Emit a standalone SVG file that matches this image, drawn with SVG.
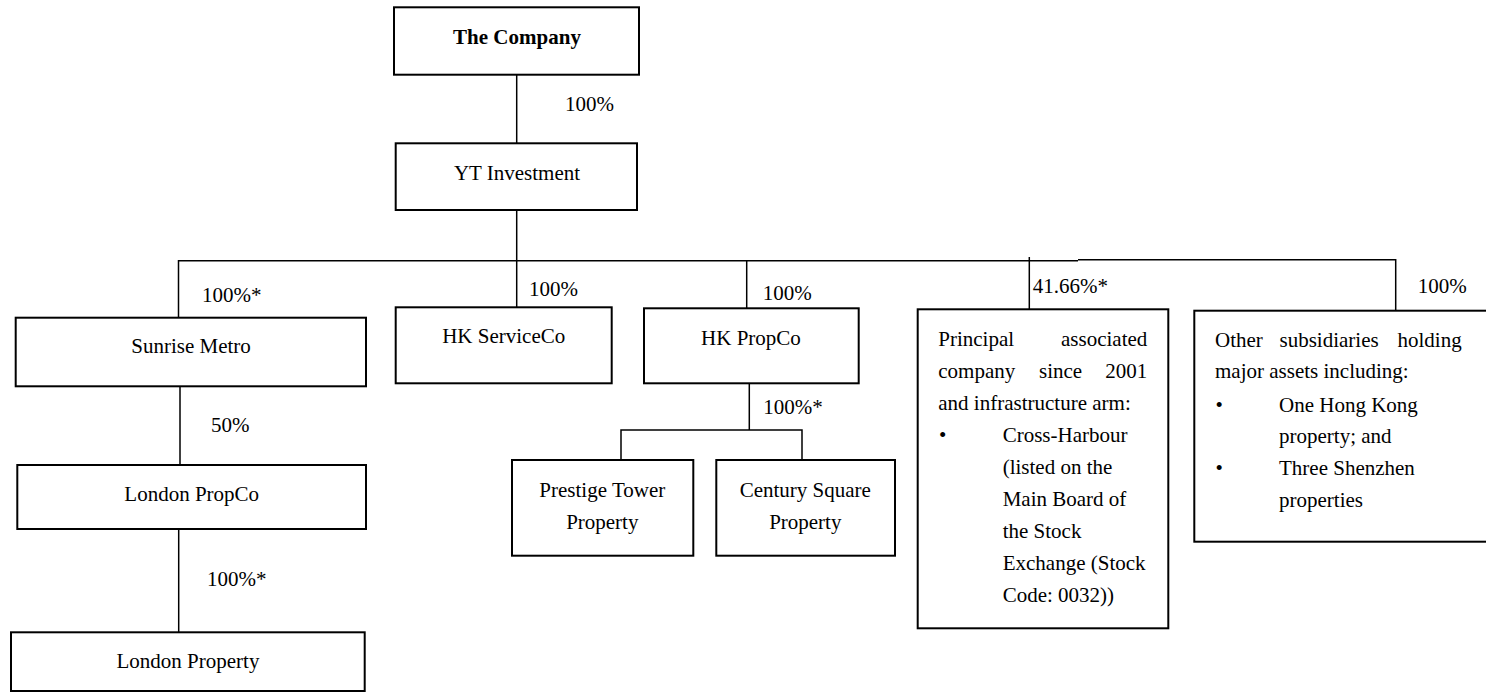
<svg xmlns="http://www.w3.org/2000/svg" width="1486" height="693" viewBox="0 0 1486 693">
<style>
text{font-family:"Liberation Serif","Times New Roman",serif;font-size:21px;fill:#000}
.c{text-anchor:middle}
.e{text-anchor:end}
.b{font-weight:bold}
.box{fill:#fff;stroke:#000;stroke-width:2}
.ln{fill:none;stroke:#000;stroke-width:1.5}
</style>
<rect width="1486" height="693" fill="#fff"/>
<g id="connectors">
<path class="ln" d="M516.7 75V145"/>
<path class="ln" d="M516.7 210V307"/>
<path class="ln" d="M178.5 260.7H1078"/>
<path class="ln" d="M1078 259.7H1395.7V311"/>
<path class="ln" d="M178.5 260V318"/>
<path class="ln" d="M746.7 261V312"/>
<path class="ln" d="M1029.3 257V309"/>
<path class="ln" d="M749.3 383V430M621 460V430H802V460"/>
<path class="ln" d="M180 386V465"/>
<path class="ln" d="M178.7 529V633"/>
<text x="565" y="111">100%</text>
<text x="202" y="302">100%*</text>
<text x="529" y="296">100%</text>
<text x="762.7" y="300">100%</text>
<text x="1032.7" y="293.3">41.66%*</text>
<text x="1417.7" y="292.7">100%</text>
<text x="763.3" y="414.3">100%*</text>
<text x="211" y="432">50%</text>
<text x="207" y="586">100%*</text>
</g>
<g id="the-company">
<rect class="box" x="394" y="7.3" width="245" height="67.4"/>
<text class="c b" x="517" y="44.3">The Company</text>
</g>
<g id="yt-investment">
<rect class="box" x="395.7" y="143.3" width="241.3" height="66.7"/>
<text class="c" x="517" y="180">YT Investment</text>
</g>
<g id="sunrise-metro">
<rect class="box" x="15.7" y="317.7" width="350.3" height="68.6"/>
<text class="c" x="191" y="353.3">Sunrise Metro</text>
</g>
<g id="hk-serviceco">
<rect class="box" x="395.7" y="307.3" width="216" height="76"/>
<text class="c" x="503.7" y="342.7">HK ServiceCo</text>
</g>
<g id="hk-propco">
<rect class="box" x="644" y="308.3" width="214.7" height="75"/>
<text class="c" x="751" y="345">HK PropCo</text>
</g>
<g id="principal-associated">
<rect class="box" x="917.7" y="309.3" width="250.6" height="319"/>
<text x="938.3" y="346">Principal</text>
<text class="e" x="1147.3" y="346">associated</text>
<text x="938.3" y="378">company</text>
<text x="1039" y="378">since</text>
<text class="e" x="1147.3" y="378">2001</text>
<text x="938.3" y="409.5">and infrastructure arm:</text>
<text x="939" y="441.7">•</text>
<text x="1002.7" y="441.7">Cross-Harbour</text>
<text x="1002.7" y="473.5">(listed on the</text>
<text x="1002.7" y="505.5">Main Board of</text>
<text x="1002.7" y="537.5">the Stock</text>
<text x="1002.7" y="569.5">Exchange (Stock</text>
<text x="1002.7" y="601.5">Code: 0032))</text>
</g>
<g id="other-subsidiaries">
<rect class="box" x="1194.3" y="310.7" width="300" height="231"/>
<text x="1215" y="347">Other</text>
<text x="1279.5" y="347">subsidiaries</text>
<text class="e" x="1461.7" y="347">holding</text>
<text x="1215" y="378">major assets including:</text>
<text x="1215.6" y="411.5">•</text>
<text x="1279" y="411.5">One Hong Kong</text>
<text x="1279" y="443">property; and</text>
<text x="1215.6" y="475">•</text>
<text x="1279" y="475">Three Shenzhen</text>
<text x="1279" y="507">properties</text>
</g>
<g id="prestige-tower">
<rect class="box" x="512" y="460" width="181.3" height="95.7"/>
<text class="c" x="602.3" y="497.3">Prestige Tower</text>
<text class="c" x="602.3" y="528.7">Property</text>
</g>
<g id="century-square">
<rect class="box" x="716.3" y="460" width="178.7" height="95.7"/>
<text class="c" x="805.3" y="497.3">Century Square</text>
<text class="c" x="805.3" y="528.7">Property</text>
</g>
<g id="london-propco">
<rect class="box" x="17.3" y="465" width="348.7" height="64"/>
<text class="c" x="191.7" y="501">London PropCo</text>
</g>
<g id="london-property">
<rect class="box" x="11" y="632.3" width="353.7" height="58.7"/>
<text class="c" x="188" y="668">London Property</text>
</g>
</svg>
